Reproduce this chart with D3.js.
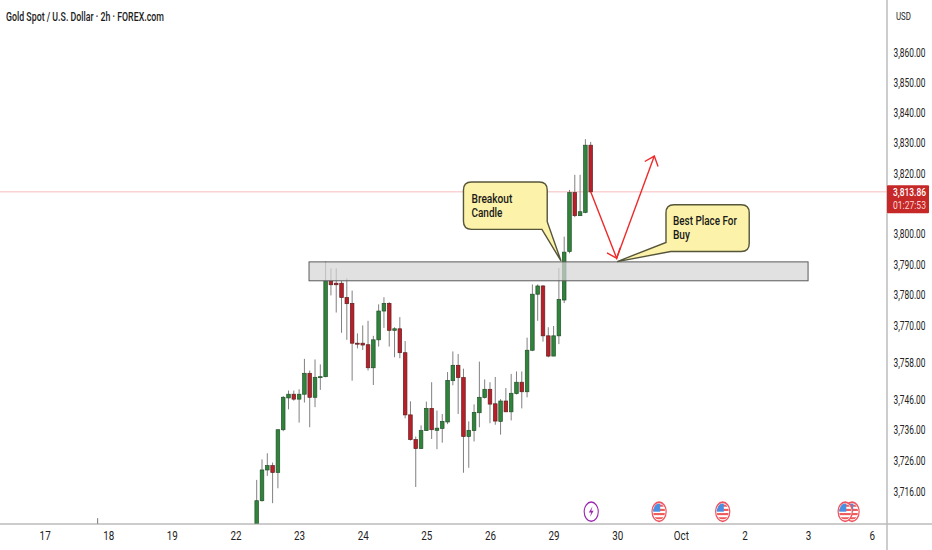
<!DOCTYPE html>
<html>
<head>
<meta charset="utf-8">
<script src="https://cdn.jsdelivr.net/npm/d3@7/dist/d3.min.js"></script>
<style>
  html, body { margin: 0; padding: 0; background: #fff; }
  svg { display: block; }
  text { font-family: Roboto, "Noto Sans", sans-serif; fill: #1a1a1a; }
</style>
</head>
<body>
<script>
// values, one entry per 2h bar
var opens = [3702.7,3713.2,3723.1,3724.5,3722.3,3736.1,3746.4,3747.6,3746.0,3747.6,3754.4,3746.6,3753.1,3753.3,3784.5,3783.8,
  3783.8,3779.1,3777.2,3764.2,3764.2,3763.7,3756.2,3765.3,3774.7,3777.2,3768.4,3768.9,3761.1,3740.9,3732.9,3730.0,
  3735.8,3743.0,3735.9,3736.5,3738.6,3752.0,3757.0,3753.0,3733.9,3735.8,3741.6,3746.5,3749.2,3744.5,3738.8,3745.4,
  3741.9,3747.8,3751.5,3748.4,3761.9,3780.2,3782.9,3766.6,3760.0,3766.6,3778.3,3794.2,3813.6,3806.0,3807.1,3829.3];
var highs = [3719.9,3726.5,3728.5,3725.5,3736.1,3747.0,3748.8,3748.8,3749.2,3759.1,3755.3,3758.9,3757.3,3791.0,3788.7,3788.7,
  3784.5,3785.4,3781.4,3767.4,3770.0,3771.5,3766.6,3776.9,3779.2,3777.6,3769.4,3772.7,3764.9,3745.3,3733.9,3737.5,
  3745.2,3751.5,3742.3,3741.2,3754.8,3761.5,3760.7,3755.9,3738.8,3744.3,3758.2,3752.4,3751.5,3753.2,3746.0,3749.6,
  3754.2,3755.0,3755.0,3766.0,3783.4,3783.4,3783.2,3769.4,3769.8,3788.8,3799.1,3814.5,3819.5,3819.5,3831.3,3830.4];
var lows = [3701.5,3712.9,3721.2,3712.4,3717.2,3735.6,3742.7,3745.5,3738.4,3744.9,3736.9,3743.4,3749.0,3753.1,3779.8,3774.2,
  3767.6,3765.3,3752.0,3762.5,3762.0,3755.3,3750.6,3763.1,3769.2,3763.1,3759.6,3759.3,3739.8,3732.6,3717.6,3730.0,
  3735.7,3733.1,3729.8,3731.9,3737.9,3750.5,3741.2,3722.2,3723.8,3732.3,3736.9,3746.2,3738.2,3737.7,3734.5,3741.8,
  3739.1,3747.5,3743.0,3746.6,3761.6,3771.5,3764.7,3759.6,3760.0,3763.9,3777.3,3793.6,3805.5,3806.0,3806.8,3813.9];
var closes = [3713.2,3723.1,3724.5,3722.3,3736.1,3746.6,3747.6,3746.0,3747.6,3754.4,3746.6,3753.1,3753.3,3784.5,3783.3,3783.3,
  3779.1,3777.1,3764.2,3764.0,3763.6,3756.2,3765.3,3774.7,3777.2,3768.4,3768.9,3761.1,3740.9,3732.9,3730.0,3735.8,
  3743.0,3736.1,3736.6,3738.8,3752.1,3757.0,3753.0,3733.9,3735.9,3741.7,3746.6,3749.2,3744.4,3738.9,3745.4,3741.9,
  3747.9,3751.5,3748.4,3761.9,3780.2,3782.9,3766.6,3760.0,3766.6,3778.5,3794.0,3813.6,3806.0,3807.3,3829.3,3813.86];

// the lone wick poking up from below the chart near "18"
var stubBars = [-30];
var stubHighs = [3707.6];

var priceTicks = [3716,3726,3736,3746,3758,3770,3780,3790,3800,3820,3830,3840,3850,3860];
var dayBars = [-40,-28,-16,-4,8,20,32,44,56,68,80,92,104,116];
var dayLabels = ["17","18","19","22","23","24","25","26","29","30","Oct","2","3","6"];

var lastPrice = 3813.86;
var countdown = "01:27:53";
var title = "Gold Spot / U.S. Dollar · 2h · FOREX.com";

// support zone [first bar, last bar, top price, bottom price]
var zone = [9.87, 104, 3790.8, 3784.6];
// forecast arrow [bar, price]
var arrowPts = [[63, 3813.86], [67.9, 3792.0], [75, 3825.7]];
var eventBars = [63.1, 75.9, 87.9, 112.3, 111];
var eventKinds = ["bolt", "flag", "flag", "flag", "flag"];

var width = 932, height = 550;
var plotRight = 887, plotBottom = 524;

var x = d3.scaleLinear().domain([0, 63]).range([256.7, 590.7]);
var y = d3.scaleLog().domain([3716, 3860]).range([492, 53]);

var svg = d3.select("body").append("svg")
  .attr("width", width)
  .attr("height", height);

svg.append("clipPath").attr("id", "plot")
  .append("rect").attr("width", plotRight).attr("height", plotBottom);

var plot = svg.append("g").attr("clip-path", "url(#plot)");

// last price line
plot.append("line")
  .attr("x1", 0).attr("x2", plotRight)
  .attr("y1", y(lastPrice)).attr("y2", y(lastPrice))
  .attr("stroke", "#f6bcbc").attr("stroke-width", 1);

plot.selectAll(".stub").data(stubBars).enter().append("line")
  .attr("x1", function(d){ return x(d) }).attr("x2", function(d){ return x(d) })
  .attr("y1", function(d, i){ return y(stubHighs[i]) }).attr("y2", plotBottom)
  .attr("stroke", "#777");

// candles
var candles = plot.selectAll(".candle").data(opens).enter().append("g");
candles.append("line")
  .attr("x1", function(d, i){ return x(i) }).attr("x2", function(d, i){ return x(i) })
  .attr("y1", function(d, i){ return y(highs[i]) }).attr("y2", function(d, i){ return y(lows[i]) })
  .attr("stroke", "#808080").attr("stroke-width", 1);
candles.append("rect")
  .attr("x", function(d, i){ return x(i) - 1.8 })
  .attr("width", 3.6)
  .attr("y", function(d, i){ return y(Math.max(opens[i], closes[i])) })
  .attr("height", function(d, i){ return Math.max(1, Math.abs(y(opens[i]) - y(closes[i]))) })
  .attr("fill", function(d, i){ return closes[i] >= opens[i] ? "#2f833a" : "#b91f28" })
  .attr("stroke", function(d, i){ return closes[i] >= opens[i] ? "#24502c" : "#5e2020" })
  .attr("stroke-width", 0.7);

// zone box sits over the candles
plot.append("rect")
  .attr("x", x(zone[0])).attr("width", x(zone[1]) - x(zone[0]))
  .attr("y", y(zone[2])).attr("height", y(zone[3]) - y(zone[2]))
  .attr("fill", "#d6d6d6").attr("fill-opacity", 0.72)
  .attr("stroke", "#5a5a5a").attr("stroke-width", 1);

// red arrows
var red = "#ee2b2b";
plot.append("path")
  .attr("d", d3.line().x(function(d){ return x(d[0]) }).y(function(d){ return y(d[1]) })(arrowPts))
  .attr("fill", "none").attr("stroke", red).attr("stroke-width", 1.4);

function arrowHead(from, to) {
  var x1 = x(to[0]), y1 = y(to[1]);
  var ang = Math.atan2(y(from[1]) - y1, x(from[0]) - x1);
  var p = d3.path();
  p.moveTo(x1 + 11 * Math.cos(ang - 0.7), y1 + 11 * Math.sin(ang - 0.7));
  p.lineTo(x1, y1);
  p.lineTo(x1 + 11 * Math.cos(ang + 0.7), y1 + 11 * Math.sin(ang + 0.7));
  plot.append("path").attr("d", p.toString())
    .attr("fill", "none").attr("stroke", red).attr("stroke-width", 1.4);
}
arrowHead(arrowPts[0], arrowPts[1]);
arrowHead(arrowPts[1], arrowPts[2]);

// the original text is squeezed sideways, so scale each label to its measured width
function squeeze(sel, w, ox, oy) {
  sel.each(function() {
    var s = w / this.getComputedTextLength();
    d3.select(this).attr("transform", "translate(" + ox + "," + oy + ") scale(" + s + ",1)");
  });
}

function label(g, str, px, py, w, size, opts) {
  opts = opts || {};
  var t = g.append("text")
    .style("font-size", size + "px")
    .style("font-weight", opts.weight || 400)
    .style("fill", opts.fill || "#1a1a1a")
    .text(str);
  squeeze(t, w, px, py);
  return t;
}

// callouts
var calloutFill = "#fdf2a9", calloutStroke = "#55553a";

function roundedBox(p, x0, x1, y0, y1, r, tail) {
  p.moveTo(x0 + r, y0);
  p.lineTo(x1 - r, y0);
  p.quadraticCurveTo(x1, y0, x1, y0 + r);
  if (tail.side == "right") {
    p.lineTo(x1, tail.a[1]);
    p.lineTo(tail.tip[0], tail.tip[1]);
    p.lineTo(tail.b[0], y1);
  } else {
    p.lineTo(x1, y1 - r);
    p.quadraticCurveTo(x1, y1, x1 - r, y1);
  }
  if (tail.side == "left") {
    p.lineTo(tail.b[0], y1);
    p.lineTo(tail.tip[0], tail.tip[1]);
    p.lineTo(x0, tail.a[1]);
  } else {
    p.lineTo(x0 + r, y1);
    p.quadraticCurveTo(x0, y1, x0, y1 - r);
  }
  p.lineTo(x0, y0 + r);
  p.quadraticCurveTo(x0, y0, x0 + r, y0);
  p.closePath();
}

var p1 = d3.path();
roundedBox(p1, x(39), x(54.8), y(3817.1), y(3801.5), 8,
  {side: "right", a: [x(54.8), y(3804)], b: [x(53.8), y(3801.5)], tip: [x(57.4), y(3791.1)]});
plot.append("path").attr("d", p1.toString())
  .attr("fill", calloutFill).attr("stroke", calloutStroke).attr("stroke-width", 1.4);

var p2 = d3.path();
roundedBox(p2, x(77.2), x(92.9), y(3809.6), y(3794.2), 8,
  {side: "left", a: [x(77.2), y(3797.2)], b: [x(78.1), y(3794.2)], tip: [x(68), y(3790.9)]});
plot.append("path").attr("d", p2.toString())
  .attr("fill", calloutFill).attr("stroke", calloutStroke).attr("stroke-width", 1.4);

label(plot, "Breakout", x(39) + 8, y(3817.1) + 21, 41, 12, {weight: 500});
label(plot, "Candle", x(39) + 8, y(3817.1) + 35.3, 31, 12, {weight: 500});
label(plot, "Best Place For", x(77.2) + 7, y(3809.6) + 20, 64, 12, {weight: 500});
label(plot, "Buy", x(77.2) + 7, y(3809.6) + 34.3, 17, 12, {weight: 500});

// event icons along the bottom, the picture is squashed so they come out as tall ovals
var defs = svg.append("defs");
var events = plot.selectAll(".event").data(eventBars).enter().append("g")
  .attr("transform", function(d){ return "translate(" + x(d) + ",511.7) scale(1.1,1.5)" });

events.each(function(d, i) {
  var g = d3.select(this);
  if (eventKinds[i] == "bolt") {
    g.append("circle").attr("r", 6.4).attr("fill", "#fff").attr("stroke", "#9c27b0").attr("stroke-width", 1);
    g.append("path").attr("d", "M1.2,-3.6 L-2.2,0.6 L0,0.6 L-1.2,3.6 L2.2,-0.6 L0,-0.6 Z").attr("fill", "#9c27b0");
  } else {
    var id = "flag" + i;
    defs.append("clipPath").attr("id", id).append("circle").attr("r", 5.4);
    g.append("circle").attr("r", 6.4).attr("fill", "#fff");
    var f = g.append("g").attr("clip-path", "url(#" + id + ")");
    [-4, -1.2, 1.6, 4.4].forEach(function(s) {
      f.append("rect").attr("x", -6).attr("y", s - 0.7).attr("width", 12).attr("height", 1.4).attr("fill", "#ef5a5a");
    });
    f.append("rect").attr("x", -6).attr("y", -6).attr("width", 7).attr("height", 6).attr("fill", "#4a90e2");
    g.append("circle").attr("r", 6.4).attr("fill", "none").attr("stroke", "#ee5560").attr("stroke-width", 1.1);
  }
});

// axes
var yAxis = d3.axisRight(y).tickValues(priceTicks).tickSize(0).tickPadding(0)
  .tickFormat(d3.format(",.2f"));
var gy = svg.append("g").attr("transform", "translate(893.5,0)").call(yAxis);
gy.select(".domain").remove();
gy.selectAll("text")
  .style("font-size", "12px").style("fill", "#222");
squeeze(gy.selectAll("text"), 32, 0, 0);

var xAxis = d3.axisBottom(x).tickValues(dayBars).tickSize(0).tickPadding(0)
  .tickFormat(function(d, i){ return dayLabels[i] });
var gx = svg.append("g").attr("transform", "translate(0,531)").call(xAxis);
gx.select(".domain").remove();
gx.selectAll("text")
  .style("font-size", "12px").style("fill", "#222")
  .attr("transform", "scale(0.82,1)");

// chart frame lines
svg.append("line").attr("x1", 0).attr("x2", width).attr("y1", plotBottom).attr("y2", plotBottom)
  .attr("stroke", "#9a9a9a").attr("stroke-width", 1.2);
svg.append("line").attr("x1", plotRight).attr("x2", plotRight).attr("y1", 0).attr("y2", height)
  .attr("stroke", "#b8b8b8").attr("stroke-width", 1.4);

// last price tag
var tagY = y(lastPrice);
svg.append("rect").attr("x", plotRight).attr("y", tagY - 6.5).attr("width", 42).attr("height", 28)
  .attr("fill", "#c62828").attr("rx", 1);
label(svg, d3.format(",.2f")(lastPrice), 893, tagY + 4.5, 33, 11.5, {fill: "#fff", weight: 500});
label(svg, countdown, 893, tagY + 17.5, 33, 11.5, {fill: "#f6d6d6"});

label(svg, "USD", 896, 20, 15, 11.5, {fill: "#222"});
label(svg, title, 6, 20.5, 158, 13, {weight: 500, fill: "#1c1c1c"});
</script>
</body>
</html>
